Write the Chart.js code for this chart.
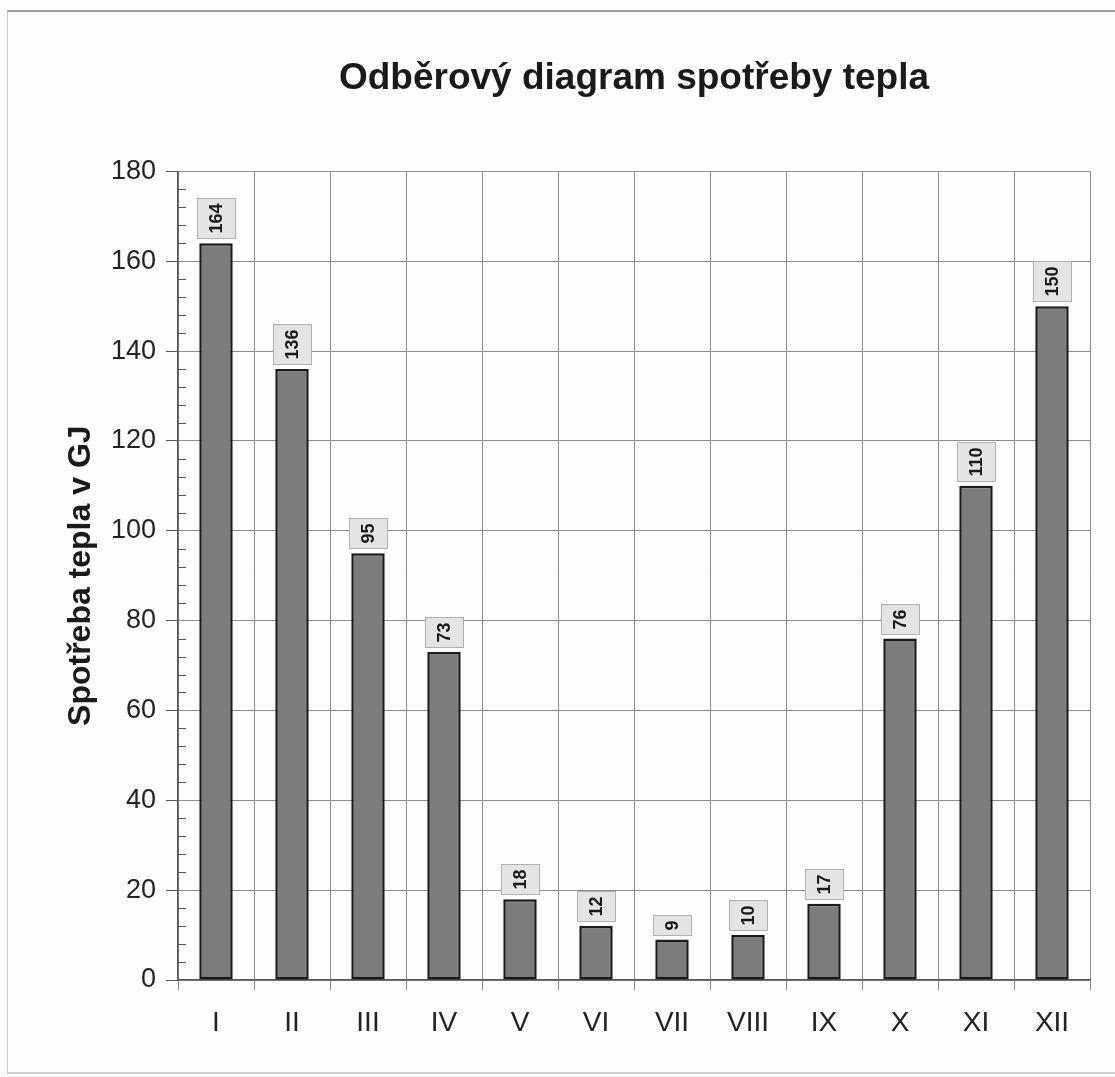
<!DOCTYPE html>
<html>
<head>
<meta charset="utf-8">
<script src="https://cdn.jsdelivr.net/npm/chart.js@4/dist/chart.umd.min.js"></script>
<style>
html,body{margin:0;padding:0;background:#fdfdfd;}
#wrap{position:absolute;left:0;top:0;width:1115px;height:1077px;}
#frame{position:absolute;left:7px;top:10px;width:1120px;height:1064px;border-top:2px solid #9a9a9a;border-left:1px solid #c8c8c8;border-bottom:2px solid #d0d0d0;box-sizing:border-box;pointer-events:none;}
canvas{position:absolute;left:0;top:0;}
</style>
</head>
<body>
<div id="wrap"><canvas id="c" width="1115" height="1077"></canvas><div id="frame"></div></div>
<script>
const chartTitle = "Odběrový diagram spotřeby tepla";
const yAxisTitle = "Spotřeba tepla v GJ";
const months = ["I","II","III","IV","V","VI","VII","VIII","IX","X","XI","XII"];
const consumption = [164,136,95,73,18,12,9,10,17,76,110,150];
const yMin = 0, yMax = 180, yStep = 20, yMinorStep = 4;

const labelPlugin = {
  id: 'valueBoxes',
  afterDatasetsDraw(chart) {
    const ctx = chart.ctx;
    const meta = chart.getDatasetMeta(0);
    ctx.save();
    ctx.font = 'bold 18px "Liberation Sans", Arial, sans-serif';
    meta.data.forEach((bar, i) => {
      const txt = String(consumption[i]);
      const tw = ctx.measureText(txt).width;
      const bw = 39, bh = Math.round(tw + 11);
      const x = Math.round(bar.x - bw/2);
      const y = Math.round(bar.y - 4 - bh);
      ctx.fillStyle = '#e4e4e4';
      ctx.fillRect(x, y, bw, bh);
      ctx.strokeStyle = '#b0b0b0';
      ctx.lineWidth = 1;
      ctx.strokeRect(x+0.5, y+0.5, bw-1, bh-1);
      ctx.save();
      ctx.translate(bar.x, y + bh/2);
      ctx.rotate(-Math.PI/2);
      ctx.fillStyle = '#1a1a1a';
      ctx.textAlign = 'center';
      ctx.textBaseline = 'middle';
      ctx.fillText(txt, 0, 1);
      ctx.restore();
    });
    ctx.restore();
  }
};

const minorTicks = {
  id: 'minorTicks',
  afterDraw(chart) {
    const ys = chart.scales.y;
    const ctx = chart.ctx;
    ctx.save();
    ctx.strokeStyle = '#555';
    ctx.lineWidth = 1;
    for (let v = yMin; v <= yMax; v += yMinorStep) {
      if (v % yStep === 0) continue;
      const py = Math.round(ys.getPixelForValue(v)) + 0.5;
      ctx.beginPath();
      ctx.moveTo(ys.right, py);
      ctx.lineTo(ys.right + 8, py);
      ctx.stroke();
    }
    ctx.restore();
  }
};

new Chart(document.getElementById('c'), {
  type: 'bar',
  data: {
    labels: months,
    datasets: [{
      data: consumption,
      backgroundColor: '#7d7d7d',
      borderColor: '#1a1a1a',
      borderWidth: 2.5,
      borderSkipped: false,
      categoryPercentage: 1,
      barPercentage: 0.44
    }]
  },
  options: {
    responsive: false,
    animation: false,
    devicePixelRatio: 1,
    layout: { padding: { left: 0, right: 25, top: 0, bottom: 0 } },
    plugins: {
      legend: { display: false },
      tooltip: { enabled: false },
      title: {
        display: true,
        fullSize: false,
        text: chartTitle,
        color: '#1a1a1a',
        font: { family: '"Liberation Sans", Arial, sans-serif', size: 37, weight: 'bold' },
        padding: { top: 57, bottom: 70 },
        align: 'center'
      }
    },
    scales: {
      x: {
        afterFit(s) { s.height = 97; },
        grid: { color: '#8a8a8a', lineWidth: 1, tickLength: 10, offset: true, tickColor: '#8a8a8a' },
        border: { color: '#555', width: 1.5 },
        ticks: { color: '#222', padding: 16, font: { family: '"Liberation Sans", Arial, sans-serif', size: 28 } }
      },
      y: {
        min: yMin, max: yMax,
        afterFit(s) { s.width = 178; },
        grid: { color: '#8a8a8a', lineWidth: 1, tickLength: 12, tickColor: '#555' },
        border: { color: '#555', width: 1.5 },
        ticks: { stepSize: yStep, color: '#222', padding: 10, font: { family: '"Liberation Sans", Arial, sans-serif', size: 27 } },
        title: {
          display: true,
          text: yAxisTitle,
          color: '#1a1a1a',
          font: { family: '"Liberation Sans", Arial, sans-serif', size: 32, weight: 'bold' },
          padding: { top: 62, bottom: 0 }
        }
      }
    }
  },
  plugins: [labelPlugin, minorTicks]
});
</script>
</body>
</html>
